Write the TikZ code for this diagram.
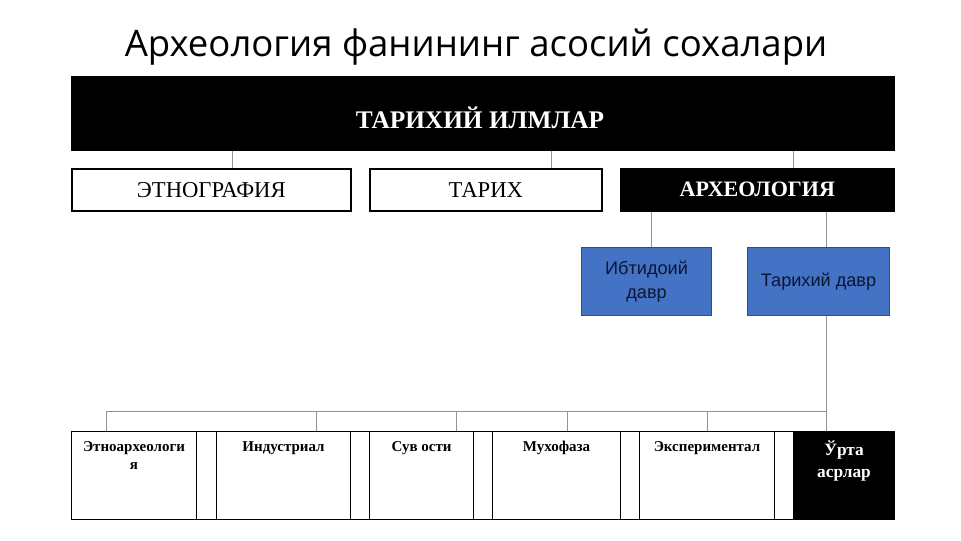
\documentclass[tikz,border=0pt]{standalone}
\usepackage{fontspec}
\setmainfont{Liberation Serif}
\newfontfamily\titlefont{Open Sans}
\newfontfamily\blockfont{Liberation Sans}
\usetikzlibrary{positioning}
\definecolor{periodblue}{HTML}{4472C4}
\definecolor{periodedge}{HTML}{2F4F8A}
\definecolor{periodtext}{HTML}{0B1633}
\newcommand{\px}{0.75pt}
\tikzset{
  frame/.style={draw, line width=1.2pt, inner sep=0pt, anchor=north west},
  darkframe/.style={frame, fill=black, text=white},
  period/.style={draw=periodedge, fill=periodblue, text=periodtext, line width=0.8pt,
    inner sep=0pt, anchor=north west, align=center,
    font=\blockfont\fontsize{13.6}{18.5}\selectfont},
  cell/.style={draw, line width=0.8pt, inner sep=0pt, anchor=north west,
    minimum height=88*\px},
  celltext/.style={inner sep=0pt, align=center, font=\bfseries\fontsize{11.25}{13.5}\selectfont},
  conn/.style={draw=gray!85, line width=0.6pt}
}
\begin{document}
\begin{tikzpicture}[x=\px, y=-\px]
  \useasboundingbox (0,0) rectangle (961,540);
  \node (title) at (476,47) {\titlefont\fontsize{27.4}{32}\selectfont Археология фанининг асосий сохалари};

  % top level
  \node[darkframe, minimum width=822*\px, minimum height=73*\px] (ilmlar) at (71,76) {};
  \node[text=white, font=\bfseries\fontsize{19}{23}\selectfont] (ilmlartext) at (480,118) {ТАРИХИЙ ИЛМЛАР};

  % sciences
  \node[frame, minimum width=279*\px, minimum height=42*\px,
    font=\fontsize{17}{20}\selectfont] (etno) at (71,168) {ЭТНОГРАФИЯ};
  \node[frame, minimum width=232*\px, minimum height=42*\px,
    font=\fontsize{17}{20}\selectfont] (tarix) at (369,168) {ТАРИХ};
  \node[darkframe, minimum width=273*\px, minimum height=42*\px,
    font=\bfseries\fontsize{16.5}{20}\selectfont] (arx) at (620,168) {АРХЕОЛОГИЯ};

  % periods
  \node[period, minimum width=130*\px, minimum height=68*\px] (ibtid) at (581,247) {Ибтидоий\\давр};
  \node[period, minimum width=142*\px, minimum height=68*\px] (tdavr) at (747,247) {Тарихий давр};

  % branches
  \node[cell, minimum width=125*\px] (c1) at (71,431) {};
  \node[cell, minimum width=20*\px] (g1) at (196,431) {};
  \node[cell, minimum width=134*\px] (c2) at (216,431) {};
  \node[cell, minimum width=19*\px] (g2) at (350,431) {};
  \node[cell, minimum width=104*\px] (c3) at (369,431) {};
  \node[cell, minimum width=19*\px] (g3) at (473,431) {};
  \node[cell, minimum width=128*\px] (c4) at (492,431) {};
  \node[cell, minimum width=19*\px] (g4) at (620,431) {};
  \node[cell, minimum width=135*\px] (c5) at (639,431) {};
  \node[cell, minimum width=19*\px] (g5) at (774,431) {};
  \node[cell, fill=black, minimum width=101*\px] (c6) at (793,431) {};

  \node[celltext, below=10*\px of c1.north] (t1) {Этноархеологи\\я};
  \node[celltext, below=10*\px of c2.north] (t2) {Индустриал};
  \node[celltext, below=10*\px of c3.north] (t3) {Сув ости};
  \node[celltext, below=10*\px of c4.north] (t4) {Мухофаза};
  \node[celltext, below=10*\px of c5.north] (t5) {Экспериментал};
  \node[celltext, text=white, font=\bfseries\fontsize{13}{17}\selectfont,
    below=9*\px of c6.north] (t6) {Ўрта\\асрлар};

  % connectors
  \draw[conn] (ilmlar.south -| 232,0) -- (etno.north -| 232,0);
  \draw[conn] (ilmlar.south -| 551,0) -- (tarix.north -| 551,0);
  \draw[conn] (ilmlar.south -| 793,0) -- (arx.north -| 793,0);
  \draw[conn] (arx.south -| 651,0) -- (ibtid.north -| 651,0);
  \draw[conn] (arx.south -| 826,0) -- (tdavr.north -| 826,0);
  \coordinate (busR) at (826,411);
  \coordinate (busL) at (106,411);
  \draw[conn] (tdavr.south -| busR) -- (busR) -- (busL);
  \draw[conn] (busL) -- (c1.north -| busL);
  \draw[conn] (316,411) -- (c2.north -| 316,0);
  \draw[conn] (456,411) -- (c3.north -| 456,0);
  \draw[conn] (567,411) -- (c4.north -| 567,0);
  \draw[conn] (707,411) -- (c5.north -| 707,0);
  \draw[conn] (busR) -- (c6.north -| busR);
\end{tikzpicture}
\end{document}
